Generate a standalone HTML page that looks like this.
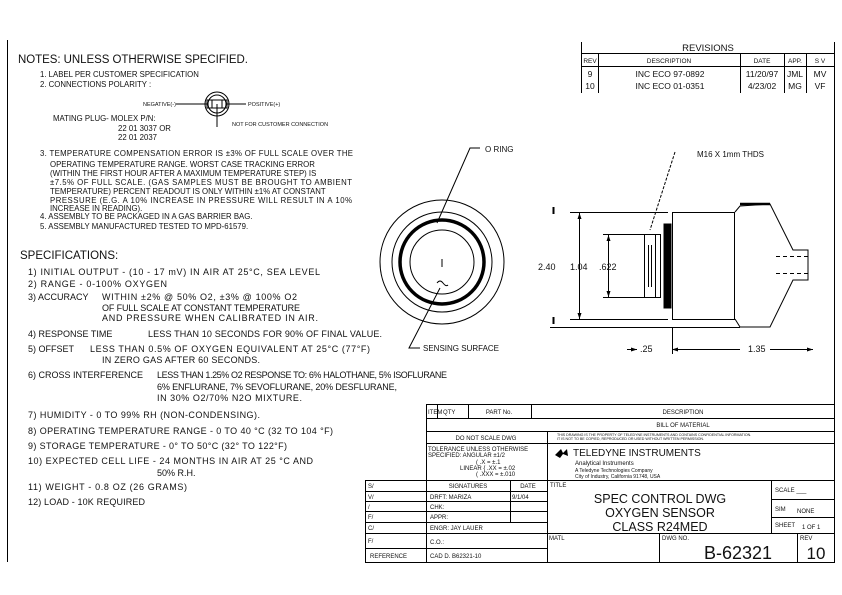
<!DOCTYPE html>
<html><head><meta charset="utf-8"><style>
html,body{margin:0;padding:0;background:#fff}
svg{display:block}
text{font-family:"Liberation Sans",sans-serif;fill:#111}
</style></head><body>
<svg width="842" height="595" viewBox="0 0 842 595" xmlns="http://www.w3.org/2000/svg">
<g stroke="#000" stroke-width="1" fill="none">
<line x1="7.5" y1="40" x2="7.5" y2="562"/>
<line x1="834.5" y1="42" x2="834.5" y2="562"/>
<line x1="581.5" y1="42" x2="581.5" y2="93"/>
<line x1="581" y1="53.5" x2="835" y2="53.5"/>
<line x1="581" y1="66.5" x2="835" y2="66.5"/>
<line x1="598.5" y1="53" x2="598.5" y2="93"/>
<line x1="740.5" y1="53" x2="740.5" y2="93"/>
<line x1="784.5" y1="53" x2="784.5" y2="93"/>
<line x1="806.5" y1="53" x2="806.5" y2="93"/>
<circle cx="217" cy="104" r="12"/><circle cx="217" cy="104" r="9"/>
<rect x="207" y="100" width="20" height="8"/>
<line x1="212" y1="100" x2="212" y2="108"/><line x1="222" y1="100" x2="222" y2="108"/>
<line x1="176" y1="104" x2="207" y2="104"/><line x1="227" y1="104" x2="246" y2="104"/>
<line x1="217" y1="104" x2="217" y2="127"/>
<circle cx="442" cy="262" r="62"/>
<circle cx="442" cy="262" r="50"/>
<circle cx="442" cy="262" r="42" stroke-width="3.5"/>
<circle cx="442" cy="262" r="32"/>
<line x1="442" y1="259" x2="442" y2="267"/>
<path d="M437 283 q3 -4 6 0 q3 4 5 2"/>
<polyline points="480,148 470,148 437,223"/>
<polyline points="420,348 409,348 440,288"/>
<line x1="570" y1="212.5" x2="668" y2="212.5"/>
<line x1="570" y1="319.5" x2="668" y2="319.5"/>
<line x1="553.5" y1="207" x2="553.5" y2="214" stroke-width="2"/>
<line x1="553.5" y1="317" x2="553.5" y2="324" stroke-width="2"/>
<line x1="579.5" y1="213" x2="579.5" y2="319"/>
<line x1="603" y1="234.5" x2="644" y2="234.5"/>
<line x1="603" y1="297.5" x2="644" y2="297.5"/>
<line x1="608.5" y1="235" x2="608.5" y2="297"/>
<rect x="644.5" y="234.5" width="16" height="63"/>
<line x1="655.5" y1="235" x2="655.5" y2="297"/>
<line x1="648.5" y1="245" x2="648.5" y2="287"/>
<line x1="651.5" y1="245" x2="651.5" y2="287"/>
<rect x="664" y="224" width="7" height="84" fill="#000"/>
<rect x="672.5" y="212.5" width="62" height="107"/>
<polyline points="735,212 740,206 770,204 793,250 808,250 808,280 793,280 770,327 740,327 735,319"/>
<line x1="740" y1="204" x2="770" y2="204" stroke-width="2.5"/>
<line x1="776" y1="256.5" x2="808" y2="256.5" stroke-dasharray="4,3"/>
<line x1="776" y1="273.5" x2="808" y2="273.5" stroke-dasharray="4,3"/>
<line x1="550" y1="327.5" x2="740" y2="327.5"/>
<line x1="675" y1="152" x2="650" y2="230" stroke-dasharray="3,1.5"/>
<line x1="672.5" y1="327" x2="672.5" y2="354"/>
<line x1="627" y1="349.5" x2="637" y2="349.5"/>
<line x1="672" y1="349.5" x2="740" y2="349.5"/>
<line x1="770" y1="349.5" x2="813" y2="349.5"/>
<rect x="426.5" y="404.5" width="408" height="158"/>
<line x1="426" y1="418.5" x2="835" y2="418.5"/>
<line x1="426" y1="431.5" x2="835" y2="431.5"/>
<line x1="426" y1="443.5" x2="835" y2="443.5"/>
<line x1="365" y1="480.5" x2="835" y2="480.5"/>
<line x1="437.5" y1="404" x2="437.5" y2="418"/>
<line x1="468.5" y1="404" x2="468.5" y2="418"/>
<line x1="531.5" y1="404" x2="531.5" y2="418"/>
<line x1="547.5" y1="431" x2="547.5" y2="562"/>
<line x1="365.5" y1="480" x2="365.5" y2="562"/>
<line x1="365" y1="562.5" x2="426" y2="562.5"/>
<line x1="510.5" y1="480" x2="510.5" y2="522"/>
<line x1="365" y1="491.5" x2="547" y2="491.5"/>
<line x1="365" y1="501.5" x2="547" y2="501.5"/>
<line x1="365" y1="511.5" x2="547" y2="511.5"/>
<line x1="365" y1="522.5" x2="547" y2="522.5"/>
<line x1="365" y1="533.5" x2="547" y2="533.5"/>
<line x1="365" y1="548.5" x2="547" y2="548.5"/>
<line x1="771.5" y1="480" x2="771.5" y2="533"/>
<line x1="771" y1="499.5" x2="835" y2="499.5"/>
<line x1="771" y1="517.5" x2="835" y2="517.5"/>
<line x1="547" y1="533.5" x2="835" y2="533.5"/>
<line x1="659.5" y1="533" x2="659.5" y2="562"/>
<line x1="797.5" y1="533" x2="797.5" y2="562"/>
</g>
<g fill="#000">
<polygon points="579.5,213 577.5,219 581.5,219"/><polygon points="579.5,319 577.5,313 581.5,313"/>
<polygon points="608.5,235 606.5,241 610.5,241"/><polygon points="608.5,297 606.5,291 610.5,291"/>
<polygon points="637,349.5 631,347.5 631,351.5"/><polygon points="672,349.5 678,347.5 678,351.5"/>
<polygon points="813,349.5 807,347.5 807,351.5"/>
<polygon points="555,455 561,449 563,453 567,449 568,456 563,454 560,458"/>
</g>
<text x="18" y="63" font-size="11.5" textLength="230" lengthAdjust="spacing">NOTES: UNLESS OTHERWISE SPECIFIED.</text>
<g font-size="7.8">
<text x="40" y="77">1. LABEL PER CUSTOMER SPECIFICATION</text>
<text x="40" y="87">2. CONNECTIONS POLARITY :</text>
<text x="53" y="121">MATING PLUG- MOLEX P/N:</text>
<text x="118" y="131">22 01 3037 OR</text>
<text x="118" y="140">22 01 2037</text>
<text x="40" y="156" textLength="313">3. TEMPERATURE COMPENSATION ERROR IS ±3% OF FULL SCALE OVER THE</text>
<text x="50" y="167">OPERATING TEMPERATURE RANGE. WORST CASE TRACKING ERROR</text>
<text x="50" y="176">(WITHIN THE FIRST HOUR AFTER A MAXIMUM TEMPERATURE STEP) IS</text>
<text x="50" y="185" textLength="302">±7.5% OF FULL SCALE. (GAS SAMPLES MUST BE BROUGHT TO AMBIENT</text>
<text x="50" y="194">TEMPERATURE) PERCENT READOUT IS ONLY WITHIN ±1% AT CONSTANT</text>
<text x="50" y="203" textLength="302">PRESSURE (E.G. A 10% INCREASE IN PRESSURE WILL RESULT IN A 10%</text>
<text x="50" y="211">INCREASE IN READING).</text>
<text x="40" y="219">4. ASSEMBLY TO BE PACKAGED IN A GAS BARRIER BAG.</text>
<text x="40" y="229">5. ASSEMBLY MANUFACTURED TESTED TO MPD-61579.</text>
</g>
<g font-size="5.5">
<text x="143" y="106">NEGATIVE(-)</text>
<text x="248" y="106">POSITIVE(+)</text>
<text x="232" y="126">NOT FOR CUSTOMER CONNECTION</text>
</g>
<text x="20" y="259" font-size="11.5">SPECIFICATIONS:</text>
<g font-size="9">
<text x="28" y="275" textLength="292">1) INITIAL OUTPUT - (10 - 17 mV) IN AIR AT 25°C, SEA LEVEL</text>
<text x="28" y="287" textLength="139">2) RANGE - 0-100% OXYGEN</text>
<text x="28" y="300">3) ACCURACY</text><text x="102" y="300" textLength="195">WITHIN ±2% @ 50% O2, ±3% @ 100% O2</text>
<text x="102" y="311" textLength="198">OF FULL SCALE AT CONSTANT TEMPERATURE</text>
<text x="102" y="321" textLength="216">AND PRESSURE WHEN CALIBRATED IN AIR.</text>
<text x="28" y="337">4) RESPONSE TIME</text><text x="148" y="337" textLength="234">LESS THAN 10 SECONDS FOR 90% OF FINAL VALUE.</text>
<text x="28" y="352">5) OFFSET</text><text x="90" y="352" textLength="280">LESS THAN 0.5% OF OXYGEN EQUIVALENT AT 25°C (77°F)</text>
<text x="102" y="363" textLength="158">IN ZERO GAS AFTER 60 SECONDS.</text>
<text x="28" y="378">6) CROSS INTERFERENCE</text><text x="157" y="378" textLength="290">LESS THAN 1.25% O2 RESPONSE TO: 6% HALOTHANE, 5% ISOFLURANE</text>
<text x="157" y="390" textLength="240">6% ENFLURANE, 7% SEVOFLURANE, 20% DESFLURANE,</text>
<text x="157" y="401" textLength="145">IN 30% O2/70% N2O MIXTURE.</text>
<text x="28" y="418" textLength="232">7) HUMIDITY - 0 TO 99% RH (NON-CONDENSING).</text>
<text x="28" y="434" textLength="305">8) OPERATING TEMPERATURE RANGE - 0 TO 40 °C (32 TO 104 °F)</text>
<text x="28" y="449" textLength="259">9) STORAGE TEMPERATURE - 0° TO 50°C (32° TO 122°F)</text>
<text x="28" y="464" textLength="285">10) EXPECTED CELL LIFE - 24 MONTHS IN AIR AT 25 °C AND</text>
<text x="157" y="476">50% R.H.</text>
<text x="28" y="490" textLength="159">11) WEIGHT - 0.8 OZ (26 GRAMS)</text>
<text x="28" y="505" textLength="117">12) LOAD - 10K REQUIRED</text>
</g>
<g font-size="8">
<text x="485" y="152">O RING</text>
<text x="423" y="351">SENSING SURFACE</text>
<text x="697" y="157">M16 X 1mm THDS</text>
<text x="538" y="270" font-size="9">2.40</text>
<text x="570" y="270" font-size="9">1.04</text>
<text x="599" y="270" font-size="9">.622</text>
<text x="640" y="352" font-size="9">.25</text>
<text x="748" y="352" font-size="9">1.35</text>
</g>
<text x="708" y="51" font-size="9.5" text-anchor="middle">REVISIONS</text>
<g font-size="6.5" text-anchor="middle">
<text x="590" y="63">REV</text><text x="669" y="63">DESCRIPTION</text><text x="762" y="63">DATE</text><text x="795" y="63">APP.</text><text x="820" y="63">S V</text>
</g>
<g font-size="8.5" text-anchor="middle">
<text x="590" y="77">9</text><text x="670" y="77">INC ECO 97-0892</text><text x="762" y="77">11/20/97</text><text x="795" y="77">JML</text><text x="820" y="77">MV</text>
<text x="590" y="89">10</text><text x="670" y="89">INC ECO 01-0351</text><text x="762" y="89">4/23/02</text><text x="795" y="89">MG</text><text x="820" y="89">VF</text>
</g>
<g font-size="6">
<text x="428" y="414">ITEM</text><text x="443" y="414">QTY</text><text x="499" y="414" text-anchor="middle">PART No.</text>
<text x="683" y="414" text-anchor="middle">DESCRIPTION</text>
<text x="683" y="427" text-anchor="middle">BILL OF MATERIAL</text>
<text x="486" y="440" text-anchor="middle">DO NOT SCALE DWG</text>
<text x="428" y="451">TOLERANCE UNLESS OTHERWISE</text>
<text x="428" y="457">SPECIFIED: ANGULAR ±1/2</text>
<text x="476" y="464">( .X = ±.1</text>
<text x="460" y="470">LINEAR { .XX = ±.02</text>
<text x="476" y="476">( .XXX = ±.010</text>
<text x="575" y="465">Analytical Instruments</text>
<text x="550" y="487">TITLE</text>
<text x="775" y="492">SCALE ___</text>
<text x="775" y="511">SIM</text><text x="797" y="513">NONE</text>
<text x="775" y="527">SHEET</text><text x="802" y="529">1 OF 1</text>
<text x="549" y="540">MATL</text><text x="662" y="540">DWG NO.</text><text x="800" y="540">REV</text>
<text x="368" y="488">S/</text><text x="368" y="499">V/</text><text x="368" y="509">/</text><text x="368" y="519">F/</text><text x="368" y="530">C/</text><text x="368" y="543">F/</text>
<text x="370" y="558">REFERENCE</text>
<text x="468" y="488" text-anchor="middle">SIGNATURES</text><text x="528" y="488" text-anchor="middle">DATE</text>
<text x="430" y="499">DRFT: MARIZA</text><text x="512" y="499">9/1/04</text>
<text x="430" y="509">CHK:</text><text x="430" y="519">APPR:</text><text x="430" y="530">ENGR:  JAY LAUER</text>
<text x="430" y="544">C.O.:</text><text x="430" y="558">CAD  D. B62321-10</text>
</g>
<g font-size="3.6">
<text x="557" y="436">THIS DRAWING IS THE PROPERTY OF TELEDYNE INSTRUMENTS AND CONTAINS CONFIDENTIAL INFORMATION.</text>
<text x="557" y="440">IT IS NOT TO BE COPIED, REPRODUCED OR USED WITHOUT WRITTEN PERMISSION.</text>
</g>
<g font-size="5">
<text x="575" y="472">A Teledyne Technologies Company</text>
<text x="575" y="478">City of Industry, California 91748, USA</text>
</g>
<text x="573" y="456" font-size="10">TELEDYNE INSTRUMENTS</text>
<g font-size="12.5" text-anchor="middle">
<text x="660" y="503">SPEC CONTROL DWG</text>
<text x="660" y="517">OXYGEN SENSOR</text>
<text x="660" y="531">CLASS R24MED</text>
</g>
<text x="738" y="559" font-size="18" text-anchor="middle">B-62321</text>
<text x="816" y="559" font-size="17" text-anchor="middle">10</text>
</svg>
</body></html>
